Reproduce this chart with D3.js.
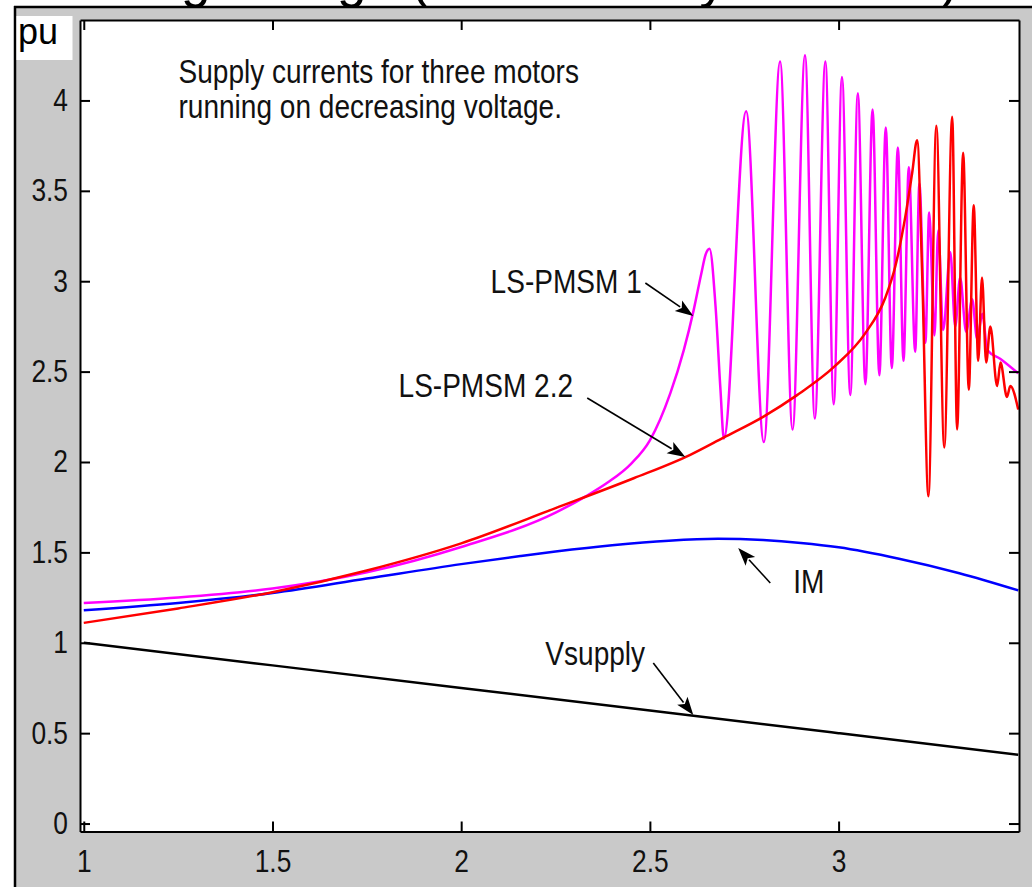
<!DOCTYPE html>
<html>
<head>
<meta charset="utf-8">
<script src="https://cdn.jsdelivr.net/npm/d3@7"></script>
<style>
  html, body { margin: 0; padding: 0; background: #fff; }
  svg { display: block; }
</style>
</head>
<body>
<svg id="fig" width="1032" height="887"></svg>
<script>
// ---- data (time axis in s, currents and voltage in pu) ----
const titleText = "Motors running on decreasing voltage (simulated by Simulink)";

const xTicks = [1, 1.5, 2, 2.5, 3];
const yTicks = [0, 0.5, 1, 1.5, 2, 2.5, 3, 3.5, 4];

// supply voltage
const tVs = [1.0, 1.5, 2.0, 2.5, 3.0, 3.476];
const vVs = [1.0, 0.875, 0.75, 0.625, 0.5, 0.381];

// induction motor current
const tIM = [1.0, 1.25, 1.5, 1.75, 2.0, 2.157, 2.25, 2.4, 2.55, 2.68, 2.8, 2.9, 3.0, 3.16, 3.32, 3.476];
const iIM = [1.18, 1.22, 1.275, 1.355, 1.435, 1.48, 1.505, 1.54, 1.565, 1.575, 1.568, 1.552, 1.528, 1.465, 1.385, 1.29];

// LS-PMSM 1 current
const tPm1 = [1.0, 1.25, 1.5, 1.75, 2.0, 2.25, 2.33, 2.387, 2.45, 2.50, 2.554, 2.59, 2.616, 2.636, 2.648, 2.658, 2.674, 2.687,
  2.696, 2.755, 2.802, 2.845, 2.878, 2.911, 2.937, 2.965, 2.987, 3.009, 3.031, 3.051, 3.071, 3.090, 3.108, 3.125,
  3.141, 3.157, 3.172, 3.186, 3.203, 3.214, 3.230, 3.240, 3.254, 3.264, 3.277, 3.296, 3.309, 3.322, 3.338, 3.354,
  3.367, 3.381, 3.394, 3.429, 3.476];
const iPm1 = [1.22, 1.25, 1.30, 1.39, 1.53, 1.72, 1.81, 1.885, 1.99, 2.12, 2.38, 2.62, 2.84, 3.04, 3.15, 3.18, 2.86, 2.40,
  2.13, 3.94, 2.11, 4.215, 2.18, 4.25, 2.24, 4.215, 2.32, 4.13, 2.37, 4.04, 2.43, 3.95, 2.48, 3.85,
  2.52, 3.74, 2.56, 3.63, 2.61, 3.54, 2.66, 3.38, 2.70, 3.28, 2.73, 3.16, 2.75, 3.02, 2.72, 2.90,
  2.68, 2.82, 2.62, 2.57, 2.49];

// LS-PMSM 2.2 current
const tPm2 = [1.0, 1.25, 1.5, 1.75, 2.0, 2.25, 2.457, 2.607, 2.695, 2.80, 2.89, 2.99, 3.07, 3.124, 3.15, 3.177,
  3.195, 3.208, 3.222, 3.238, 3.259, 3.280, 3.301, 3.314, 3.330, 3.345, 3.358, 3.370, 3.380, 3.391, 3.402,
  3.420, 3.429, 3.446, 3.455, 3.476];
const iPm2 = [1.11, 1.19, 1.28, 1.40, 1.55, 1.745, 1.91, 2.04, 2.135, 2.25, 2.37, 2.53, 2.71, 2.91, 3.08, 3.36,
  3.60, 3.78, 3.00, 1.81, 3.86, 2.08, 3.91, 2.18, 3.71, 2.40, 3.42, 2.56, 3.02, 2.55, 2.75,
  2.42, 2.55, 2.36, 2.42, 2.29];

// annotations (data units)
const captionLines = ["Supply currents for three motors", "running on decreasing voltage."];
const captionAt = [1.251, 4.097];
const noteText = ["LS-PMSM 1", "LS-PMSM 2.2", "IM", "Vsupply"];
const noteAt = [[2.078, 2.935], [1.834, 2.360], [2.880, 1.275], [2.223, 0.877]];
const arrowFrom = [[2.488, 2.990], [2.334, 2.354], [2.819, 1.331], [2.509, 0.888]];
const arrowTo = [[2.615, 2.808], [2.594, 2.028], [2.734, 1.524], [2.615, 0.600]];

// ---- layout ----
const W = 1032, H = 887;
const box = { left: 80, right: 1019, top: 20, bottom: 831.5 };
const figGray = "#c9c9c9";
const textFamily = "'Liberation Sans', Arial, sans-serif";
const tickFont = "31px " + textFamily;
const noteFont = "33px " + textFamily;
const squeeze = 0.85;   // narrow lettering of the figure text

const svg = d3.select("#fig");

// place a text at (x, y) and compress it horizontally about that anchor
function condense(sel, sx) {
  sel.each(function () {
    const t = d3.select(this);
    const tx = +t.attr("x") || 0, ty = +t.attr("y") || 0;
    t.attr("x", 0).attr("y", 0).attr("transform", `translate(${tx},${ty}) scale(${sx},1)`);
  });
}

// figure window: white margin, title strip, grey panel with dark frame
svg.append("rect").attr("width", W).attr("height", H).attr("fill", "#fff");

const titleFont = "53px 'Liberation Sans', Arial, sans-serif";
const probe = svg.append("text").style("font", titleFont).text(titleText.slice(0, titleText.indexOf("(")));
const preLen = probe.node().getComputedTextLength();
probe.remove();
svg.append("text")
  .attr("x", 396 - preLen)
  .attr("y", -3)
  .style("font", titleFont)
  .attr("fill", "#000")
  .text(titleText);

svg.append("rect").attr("x", 15).attr("y", 7).attr("width", W - 15).attr("height", H - 7).attr("fill", figGray);
svg.append("line").attr("x1", 14).attr("x2", W).attr("y1", 7).attr("y2", 7)
  .attr("stroke", "#000").attr("stroke-width", 2.5);
svg.append("line").attr("x1", 15).attr("x2", 15).attr("y1", 6).attr("y2", H)
  .attr("stroke", "#000").attr("stroke-width", 2.5);

// unit label
svg.append("rect").attr("x", 16.5).attr("y", 16).attr("width", 56).attr("height", 44).attr("fill", "#fff");
svg.append("text").attr("x", 18).attr("y", 44)
  .style("font", "36px 'Liberation Sans', Arial, sans-serif").attr("fill", "#000").text("pu");

// ---- scales ----
const x = d3.scaleLinear().domain([0.99, 3.478]).range([box.left, box.right]);
const y = d3.scaleLinear().domain([-0.044, 4.445]).range([box.bottom, box.top]);

// axes area
svg.append("rect")
  .attr("x", box.left).attr("y", box.top)
  .attr("width", box.right - box.left).attr("height", box.bottom - box.top)
  .attr("fill", "#fff");

svg.append("clipPath").attr("id", "plotClip")
  .append("rect")
  .attr("x", box.left).attr("y", box.top)
  .attr("width", box.right - box.left).attr("height", box.bottom - box.top);

// ---- curves ----
const line = d3.line().x(d => x(d[0])).y(d => y(d[1])).curve(d3.curveMonotoneX);
const series = [
  { t: tVs, v: vVs, color: "#000000" },
  { t: tIM, v: iIM, color: "#0000ff" },
  { t: tPm1, v: iPm1, color: "#ff00ff" },
  { t: tPm2, v: iPm2, color: "#ff0000" }
];
const plot = svg.append("g").attr("clip-path", "url(#plotClip)");
series.forEach(s => {
  plot.append("path")
    .datum(s.t.map((t, i) => [t, s.v[i]]))
    .attr("fill", "none")
    .attr("stroke", s.color)
    .attr("stroke-width", 2.5)
    .attr("stroke-linejoin", "round")
    .attr("d", line);
});

// ---- axes (box with inward ticks) ----
function styleAxis(g) {
  g.selectAll(".domain").attr("stroke", "#000").attr("stroke-width", 2);
  g.selectAll(".tick line").attr("stroke", "#000").attr("stroke-width", 2);
  g.selectAll(".tick text").style("font", tickFont).attr("fill", "#111");
}

svg.append("g")
  .attr("transform", `translate(0,${box.bottom})`)
  .call(d3.axisBottom(x).tickValues(xTicks).tickFormat(d => String(d)).tickSizeInner(-10).tickSizeOuter(0).tickPadding(14))
  .call(styleAxis)
  .call(g => g.selectAll(".tick text").attr("y", 40).attr("dy", 0))
  .call(g => condense(g.selectAll(".tick text"), squeeze));

svg.append("g")
  .attr("transform", `translate(0,${box.top})`)
  .call(d3.axisTop(x).tickValues(xTicks).tickFormat("").tickSizeInner(-10).tickSizeOuter(0))
  .call(styleAxis);

svg.append("g")
  .attr("transform", `translate(${box.left},0)`)
  .call(d3.axisLeft(y).tickValues(yTicks).tickFormat(d => String(d)).tickSizeInner(-10).tickSizeOuter(0).tickPadding(12))
  .call(styleAxis)
  .call(g => condense(g.selectAll(".tick text"), squeeze));

svg.append("g")
  .attr("transform", `translate(${box.right},0)`)
  .call(d3.axisRight(y).tickValues(yTicks).tickFormat("").tickSizeInner(-10).tickSizeOuter(0))
  .call(styleAxis);

// ---- annotations ----
const notes = svg.append("g");
captionLines.forEach((txt, i) => {
  notes.append("text")
    .attr("x", x(captionAt[0]))
    .attr("y", y(captionAt[1]) + i * 35)
    .style("font", noteFont).attr("fill", "#111")
    .text(txt)
    .call(s => condense(s, squeeze));
});

noteText.forEach((txt, i) => {
  notes.append("text")
    .attr("x", x(noteAt[i][0])).attr("y", y(noteAt[i][1]))
    .style("font", noteFont).attr("fill", "#111")
    .text(txt)
    .call(s => condense(s, squeeze));

  const x0 = x(arrowFrom[i][0]), y0 = y(arrowFrom[i][1]);
  const x1 = x(arrowTo[i][0]), y1 = y(arrowTo[i][1]);
  const len = Math.hypot(x1 - x0, y1 - y0);
  const ux = (x1 - x0) / len, uy = (y1 - y0) / len;
  const hl = 18, hw = 6.5;
  const bx = x1 - ux * hl, by = y1 - uy * hl;
  notes.append("line")
    .attr("x1", x0).attr("y1", y0).attr("x2", bx + ux * 2).attr("y2", by + uy * 2)
    .attr("stroke", "#000").attr("stroke-width", 1.6);
  notes.append("path")
    .attr("d", `M${x1},${y1} L${bx - uy * hw},${by + ux * hw} L${bx + ux * 4},${by + uy * 4} L${bx + uy * hw},${by - ux * hw} Z`)
    .attr("fill", "#000");
});
</script>
</body>
</html>
